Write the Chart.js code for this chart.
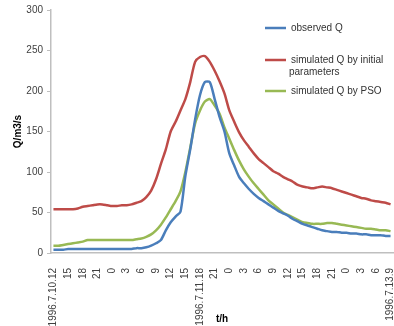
<!DOCTYPE html>
<html>
<head>
<meta charset="utf-8">
<script src="https://cdn.jsdelivr.net/npm/chart.js@4.4.0/dist/chart.umd.min.js"></script>
<style>
html,body{margin:0;padding:0;background:#fff;}
#c{display:block;}
</style>
</head>
<body>
<canvas id="c" width="394" height="326"></canvas>
<script>
// hourly categories (hours since 1996.7.10 12:00)
const hours = [];
for (let i = 0; i < 70; i++) hours.push(i);

// tick labels, one every 3 hours
const tickLabels = ["1996.7.10.12","15","18","21","0","3","6","9","12","15","1996.7.11.18","21","0","3","6","9","12","15","18","21","0","3","6","1996.7.13.9"];

const observedQ = [4,4,4,5,5,5,5,5,5,5,5,5,5,5,5,5,5,6,6,7,9,12,16,28,38,45,51,95,128,165,195,211,211,190,168,150,123,108,94,86,79,73,68,64,60,56,52,49,46,42,39,36,34,32,30,28,27,26,26,25,25,24,24,23,23,22,22,22,21,21];

const simInitialQ = [54,54,54,54,54,55,57,58,59,60,60,59,58,58,59,59,60,62,64,69,77,91,110,128,150,162,176,190,211,236,242,243,236,225,212,197,176,162,149,139,131,123,116,111,106,101,98,94,91,88,84,82,81,80,81,82,81,80,78,76,74,72,70,68,67,65,64,63,62,60];

const simPsoQ = [9,9,10,11,12,13,14,16,16,16,16,16,16,16,16,16,16,17,18,20,23,28,35,44,54,64,76,100,130,160,176,187,190,182,172,155,141,127,114,103,94,86,79,72,65,60,55,50,47,44,41,38,37,36,36,36,37,37,36,35,34,33,32,31,30,30,29,28,28,27];

const seriesNames = ["observed Q", "simulated Q by initial parameters", "simulated Q by PSO"];
const legendLines = [["observed Q"], ["simulated Q by initial", "parameters"], ["simulated Q by PSO"]];
const colors = ["#4a7ebb", "#be4b48", "#98b954"];

const legendPlugin = {
  id: 'overlayLegend',
  afterDraw(chart) {
    const ctx = chart.ctx;
    const rows = [28, 60, 91];
    ctx.save();
    ctx.font = '10px "Liberation Sans", Arial, sans-serif';
    ctx.fillStyle = '#333333';
    ctx.textBaseline = 'middle';
    chart.data.datasets.forEach((ds, i) => {
      const y = rows[i];
      ctx.strokeStyle = ds.borderColor;
      ctx.lineWidth = 2.5;
      ctx.beginPath();
      ctx.moveTo(265, y);
      ctx.lineTo(286, y);
      ctx.stroke();
      legendLines[i].forEach((t, k) => {
        ctx.fillText(t, k === 0 ? 291 : 289, y + k * 12);
      });
    });
    ctx.restore();
  }
};

new Chart(document.getElementById('c'), {
  type: 'line',
  data: {
    labels: hours,
    datasets: [
      {label: seriesNames[0], data: observedQ, borderColor: colors[0]},
      {label: seriesNames[1], data: simInitialQ, borderColor: colors[1]},
      {label: seriesNames[2], data: simPsoQ, borderColor: colors[2]}
    ].map(d => Object.assign(d, {borderWidth: 2.5, pointRadius: 0, tension: 0.25, fill: false}))
  },
  options: {
    responsive: false,
    animation: false,
    layout: {padding: {left: 0, right: 1, top: 10, bottom: 0}},
    plugins: {legend: {display: false}, tooltip: {enabled: false}},
    scales: {
      x: {
        type: 'category',
        offset: true,
        grid: {display: false},
        border: {display: true, color: '#bfbfbf', width: 1.5},
        ticks: {
          autoSkip: false,
          maxRotation: 90,
          minRotation: 90,
          padding: 7,
          color: '#404040',
          font: {family: '"Liberation Sans", Arial, sans-serif', size: 10},
          callback: function(v, i) { return i % 3 === 0 ? tickLabels[i / 3] : ''; }
        },
        title: {display: true, text: 't/h', color: '#000', padding: {top: 0, bottom: 1},
          font: {family: '"Liberation Sans", Arial, sans-serif', size: 10, weight: 'bold'}},
        afterFit(s) { s.height = 73; s.paddingLeft = 0; s.paddingRight = 0; }
      },
      y: {
        min: 0, max: 300,
        ticks: {stepSize: 50, color: '#404040', padding: 4,
          font: {family: '"Liberation Sans", Arial, sans-serif', size: 10}},
        grid: {drawOnChartArea: false, drawTicks: true, tickLength: 4, color: '#bfbfbf'},
        border: {display: true, color: '#bfbfbf', width: 1.5},
        title: {display: true, text: 'Q/m3/s', color: '#000', padding: {top: 12, bottom: 0},
          font: {family: '"Liberation Sans", Arial, sans-serif', size: 10, weight: 'bold'}},
        afterFit(s) { s.width = 51; s.paddingTop = 0; s.paddingBottom = 0; }
      }
    }
  },
  plugins: [legendPlugin]
});
</script>
</body>
</html>
